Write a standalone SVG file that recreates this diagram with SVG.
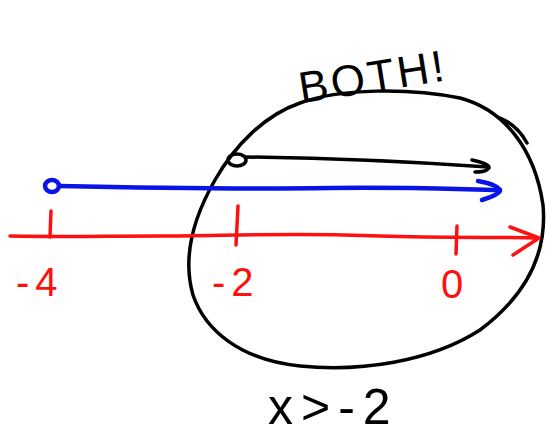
<svg xmlns="http://www.w3.org/2000/svg" width="546" height="435" viewBox="0 0 546 435">
<style>
.blk{fill:none;stroke:#000;stroke-width:3.5;stroke-linecap:round;stroke-linejoin:round}
.blu{fill:none;stroke:#0a14e6;stroke-width:4.5;stroke-linecap:round;stroke-linejoin:round}
.red{fill:none;stroke:#ff1010;stroke-width:3.5;stroke-linecap:round;stroke-linejoin:round}
.rt{fill:#ff1010;font-family:"Liberation Sans",sans-serif;font-size:40px}
.bt{fill:#000;font-family:"Liberation Sans",sans-serif}
</style>
<rect width="546" height="435" fill="#fff"/>
<g id="region">
<path class="blk" d="M300,103 C340,88 410,88 460,98 C505,110 535,150 543,205 C548,260 520,300 480,330 C430,362 360,372 300,366 C240,360 205,330 193,295 C183,260 192,220 215,180 C235,145 265,115 300,103"/>
<path class="blk" d="M500,118 C512,123 521,132 527,143"/>
</g>
<g id="axis">
<path class="red" d="M10,236 C60,237 110,236 160,236 C220,236 300,232 380,236 C440,238 500,237 538,238"/>
<path class="red" d="M510,227 L539,238 L513,255"/>
<path class="red" d="M51,211 L50,237"/>
<path class="red" d="M238,206 L236,245"/>
<path class="red" d="M457,226 L456,254"/>
<text class="rt" x="16" y="296" letter-spacing="6">-4</text>
<text class="rt" x="212" y="296" letter-spacing="6">-2</text>
<text class="rt" x="441" y="298">0</text>
</g>
<g id="blue-ray">
<ellipse class="blu" cx="52" cy="186" rx="7" ry="6"/>
<path class="blu" d="M59,186 C150,188 250,189 330,188 C400,187 450,189 500,190"/>
<path class="blu" d="M478,181 C490,183 500,187 500,191 C498,195 488,198 482,200"/>
</g>
<g id="black-ray">
<ellipse class="blk" cx="237" cy="160" rx="9" ry="6"/>
<path class="blk" d="M246,157 C320,158 400,161 488,167"/>
<path class="blk" d="M472,160 C482,162 490,165 489,168 C486,172 480,172 475,172"/>
</g>
<g id="labels">
<text class="bt" x="298" y="97" font-size="44" letter-spacing="3" transform="rotate(-9 340 80)">BOTH!</text>
<text class="bt" x="268" y="424" font-size="50" letter-spacing="8">x&gt;-2</text>
</g>
</svg>
